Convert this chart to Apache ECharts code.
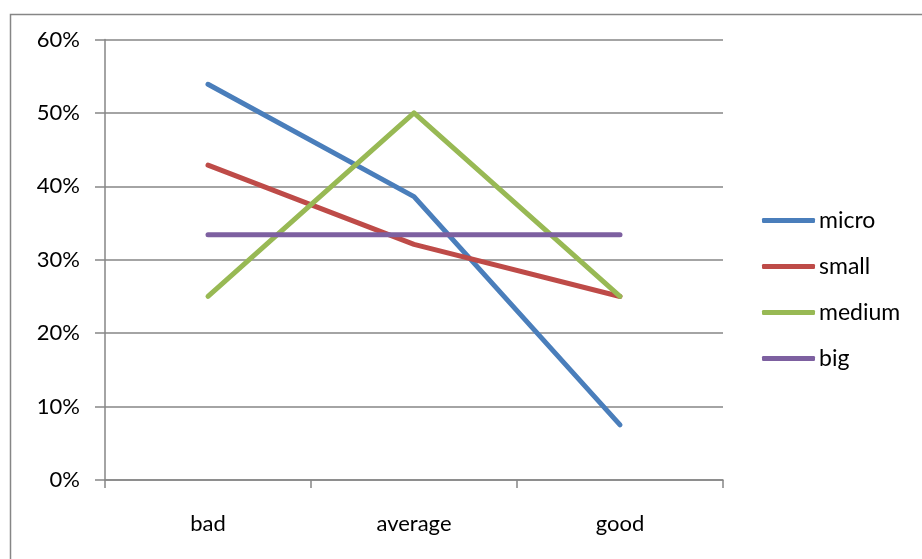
<!DOCTYPE html>
<html>
<head>
<meta charset="utf-8">
<script src="https://cdn.jsdelivr.net/npm/echarts@6/dist/echarts.min.js"></script>
<style>
html,body{margin:0;padding:0;background:#fff;}
#c{width:922px;height:559px;}
</style>
</head>
<body>
<div id="c"></div>
<script>
var categories = ['bad', 'average', 'good'];
var micro = [53.9, 38.6, 7.5];
var small = [42.9, 32.1, 25.0];
var medium = [25.0, 50.0, 25.0];
var big = [33.4, 33.4, 33.4];
var yTicks = [0, 10, 20, 30, 40, 50, 60];

var FONT = 'Lato';
var chart = echarts.init(document.getElementById('c'));
function ser(name, data, color) {
  return {
    name: name, type: 'line', data: data, symbol: 'none',
    lineStyle: { color: color, width: 5, cap: 'round', join: 'round' },
    itemStyle: { color: color }
  };
}
chart.setOption({
  animation: false,
  backgroundColor: '#fff',
  graphic: [{
    type: 'rect', left: 8, top: 12,
    shape: { width: 930, height: 560 },
    style: { fill: 'none', stroke: '#868686', lineWidth: 1.5 }
  }],
  grid: { left: 105, right: 199, top: 39.5, bottom: 79, containLabel: false },
  legend: {
    orient: 'vertical', left: 757, top: 204,
    icon: 'roundRect', itemWidth: 53, itemHeight: 5, itemGap: 23,
    textStyle: { fontFamily: FONT, fontSize: 23, color: '#000', lineHeight: 20, padding: [0, 0, 0, -1] },
    data: ['micro', 'small', 'medium', 'big']
  },
  xAxis: {
    type: 'category', data: categories, boundaryGap: true,
    axisLine: { lineStyle: { color: '#868686', width: 1.5 } },
    axisTick: { show: true, length: 8, alignWithLabel: false, lineStyle: { color: '#868686', width: 1.5 } },
    axisLabel: { margin: 33, fontFamily: FONT, fontSize: 22, color: '#000' },
    splitLine: { show: false }
  },
  yAxis: {
    type: 'value', min: yTicks[0], max: yTicks[yTicks.length - 1], interval: 10,
    axisLine: { show: true, lineStyle: { color: '#868686', width: 1.5 } },
    axisTick: { show: true, length: 10, lineStyle: { color: '#868686', width: 1.5 } },
    axisLabel: { margin: 25, fontFamily: FONT, fontSize: 22, color: '#000', formatter: '{value}%' },
    splitLine: { show: true, lineStyle: { color: '#868686', width: 1.5 } }
  },
  series: [
    ser('micro', micro, '#4A7EBB'),
    ser('small', small, '#BE4B48'),
    ser('medium', medium, '#98B954'),
    ser('big', big, '#7D60A0')
  ]
});
</script>
</body>
</html>
